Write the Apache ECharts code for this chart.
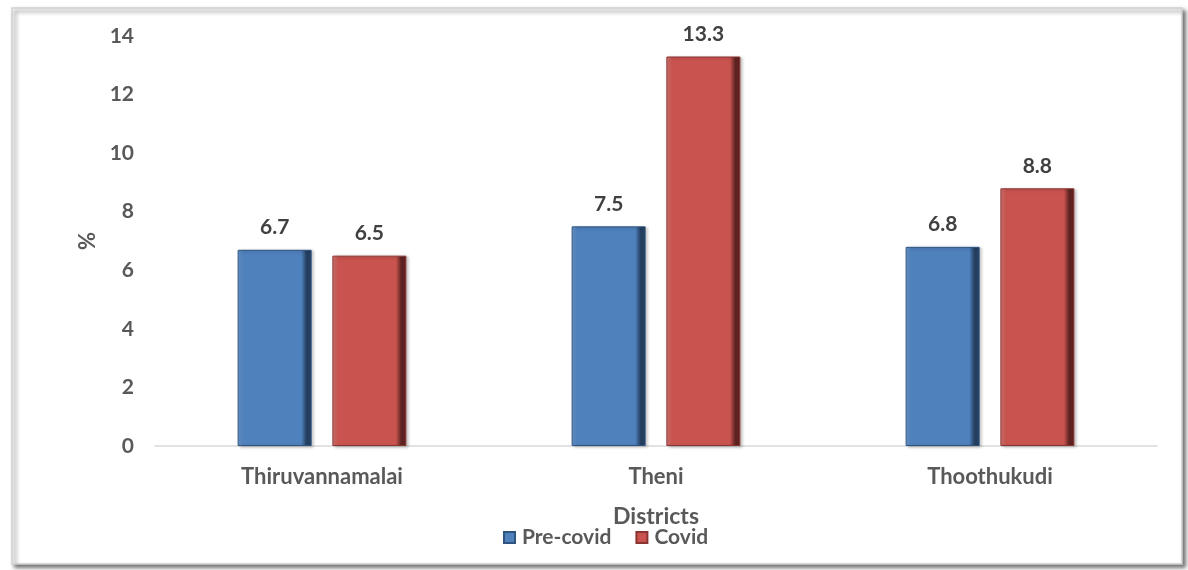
<!DOCTYPE html>
<html>
<head>
<meta charset="utf-8">
<script src="https://cdn.jsdelivr.net/npm/echarts@6/dist/echarts.min.js"></script>
<style>
  html, body { margin: 0; padding: 0; background: #ffffff; }
  #chart { width: 1188px; height: 570px; }
</style>
</head>
<body>
<div id="chart"></div>
<script>
// District-wise share (%) before and during Covid
const districts = ['Thiruvannamalai', 'Theni', 'Thoothukudi'];
const preCovid = [6.7, 7.5, 6.8];
const covid = [6.5, 13.3, 8.8];
const seriesNames = ['Pre-covid', 'Covid'];

const FONT = 'Lato, "Open Sans", sans-serif';
const TEXT = '#595959';

// Bevelled-looking bar fill: lighter left edge, flat face, dark right edge
function bevel(light, face, dark) {
  return new echarts.graphic.LinearGradient(0, 0, 1, 0, [
    { offset: 0, color: light },
    { offset: 0.08, color: face },
    { offset: 0.86, color: face },
    { offset: 0.93, color: dark },
    { offset: 1, color: dark }
  ]);
}

const chart = echarts.init(document.getElementById('chart'));
chart.setOption({
  backgroundColor: '#ffffff',
  animation: false,
  textStyle: { fontFamily: FONT },
  graphic: [{
    type: 'rect',
    shape: { x: 12, y: 8, width: 1170, height: 556 },
    style: {
      fill: '#ffffff', stroke: '#d0d0d0', lineWidth: 1.5,
      shadowColor: 'rgba(0,0,0,0.55)', shadowBlur: 4, shadowOffsetX: 3, shadowOffsetY: 3
    },
    z: -10
  }],
  grid: { left: 155, right: 31, top: 36, bottom: 124 },
  legend: {
    data: seriesNames,
    bottom: 17,
    left: 498,
    itemWidth: 11,
    itemHeight: 11,
    itemGap: 24,
    icon: 'rect',
    textStyle: { fontFamily: FONT, fontWeight: 'bold', fontSize: 21, color: TEXT, padding: [0, 0, 0, 2] }
  },
  xAxis: {
    type: 'category',
    data: districts,
    name: 'Districts',
    nameLocation: 'middle',
    nameGap: 59,
    nameTextStyle: { fontFamily: FONT, fontWeight: 'bold', fontSize: 23, color: TEXT },
    axisLine: { lineStyle: { color: '#d9d9d9', width: 1.5 } },
    axisTick: { show: false },
    axisLabel: { fontFamily: FONT, fontWeight: 'bold', fontSize: 22, color: TEXT, margin: 20 }
  },
  yAxis: {
    type: 'value',
    min: 0,
    max: 14,
    interval: 2,
    name: '%',
    nameLocation: 'middle',
    nameGap: 54,
    nameRotate: 90,
    nameTextStyle: { fontFamily: FONT, fontWeight: 'bold', fontSize: 22, color: TEXT },
    axisLine: { show: false },
    axisTick: { show: false },
    splitLine: { show: false },
    axisLabel: { fontFamily: FONT, fontWeight: 'bold', fontSize: 21, color: TEXT, margin: 21 }
  },
  series: [
    {
      name: seriesNames[0],
      type: 'bar',
      data: preCovid,
      barWidth: 74,
      barGap: '28%',
      itemStyle: {
        color: bevel('#6d9ad2', '#4f81bd', '#253f61'),
        borderColor: '#2f5480', borderWidth: 1,
        shadowColor: 'rgba(0,0,0,0.25)', shadowBlur: 3, shadowOffsetX: 2, shadowOffsetY: 1
      },
      label: {
        show: true, position: 'top', distance: 12,
        fontFamily: FONT, fontWeight: 'bold', fontSize: 21, color: '#404040'
      }
    },
    {
      name: seriesNames[1],
      type: 'bar',
      data: covid,
      barWidth: 74,
      itemStyle: {
        color: bevel('#d97a77', '#c9534f', '#5e2321'),
        borderColor: '#8a3532', borderWidth: 1,
        shadowColor: 'rgba(0,0,0,0.25)', shadowBlur: 3, shadowOffsetX: 2, shadowOffsetY: 1
      },
      label: {
        show: true, position: 'top', distance: 12,
        fontFamily: FONT, fontWeight: 'bold', fontSize: 21, color: '#404040'
      }
    }
  ]
});
</script>
</body>
</html>
